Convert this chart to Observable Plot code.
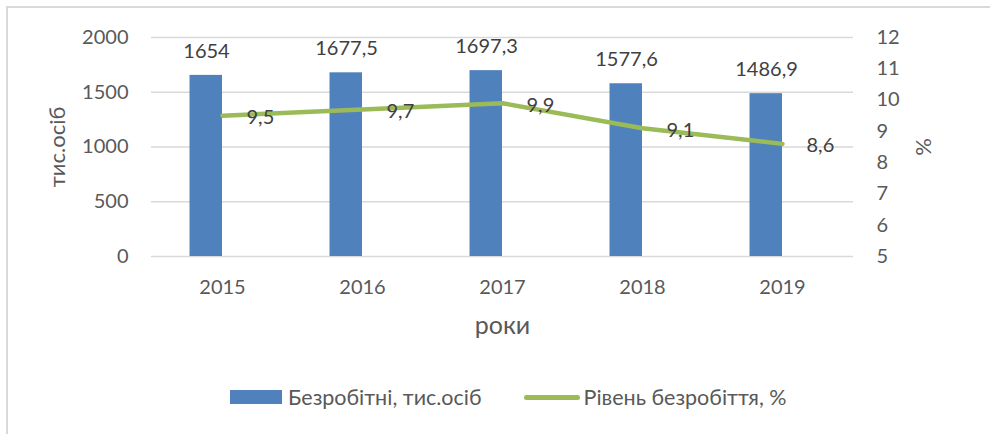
<!DOCTYPE html>
<html><head><meta charset="utf-8">
<script src="https://cdn.jsdelivr.net/npm/d3@7"></script>
<script src="https://cdn.jsdelivr.net/npm/@observablehq/plot@0.6"></script>
<style>
html,body{margin:0;padding:0;background:#fff;}
body{position:relative;width:990px;height:434px;overflow:hidden;font-family:Lato,sans-serif;}
#frame{position:absolute;left:6px;top:6px;width:1000px;height:440px;border-left:2px solid #d9d9d9;border-top:2px solid #d9d9d9;box-sizing:border-box}
#chart{position:absolute;left:0;top:0}
#legend{position:absolute;left:230px;top:384px;display:flex;align-items:center;font-size:21.5px;color:#595959;white-space:nowrap;line-height:26px}
#legend .sw-bar{display:inline-block;width:52px;height:14px;background:#4f81bd;margin-right:6px}
#legend .sw-line{display:inline-block;width:56px;height:5px;border-radius:3px;background:#9bbb59;margin-left:42px;margin-right:4px}
</style></head>
<body>
<div id="frame"></div>
<div id="chart"></div>
<div id="legend"><span class="sw-bar"></span><span>Безробітні, тис.осіб</span><span class="sw-line"></span><span>Рівень безробіття, %</span></div>
<script>
const years = ["2015", "2016", "2017", "2018", "2019"];
const unemployed = [1654, 1677.5, 1697.3, 1577.6, 1486.9];
const rate = [9.5, 9.7, 9.9, 9.1, 8.6];
const leftTicks = [0, 500, 1000, 1500, 2000];
const rightTicks = [5, 6, 7, 8, 9, 10, 11, 12];
const leftMax = 2000, rightMin = 5, rightMax = 12;

const toLeft = p => (p - rightMin) * leftMax / (rightMax - rightMin);
const fromLeft = v => Math.round(v * (rightMax - rightMin) / leftMax + rightMin);
const fmt = v => String(v).replace(".", ",");
const data = years.map((y, i) => ({year: y, value: unemployed[i], rate: rate[i], rateY: toLeft(rate[i])}));

const chart = Plot.plot({
  width: 990, height: 370,
  marginLeft: 151, marginRight: 137, marginTop: 37, marginBottom: 114,
  style: {fontFamily: "Lato, sans-serif", fontSize: "20px", color: "#595959", background: "transparent", overflow: "visible"},
  x: {domain: years, padding: 0, label: null},
  y: {domain: [0, leftMax], label: null},
  marks: [
    Plot.gridY(leftTicks, {stroke: "#d9d9d9", strokeOpacity: 1, strokeWidth: 1.6}),
    Plot.barY(data, {x: "year", y: "value", fill: "#4f81bd", insetLeft: 37.5, insetRight: 70}),
    Plot.lineY(data, {x: "year", y: "rateY", stroke: "#9bbb59", strokeWidth: 4.5, strokeLinecap: "round", strokeLinejoin: "round"}),
    Plot.text(data, {x: "year", y: "value", text: d => fmt(d.value), dx: -16, dy: -24, fill: "#404040"}),
    Plot.text(data, {x: "year", y: "rateY", text: d => fmt(d.rate), dx: 24, dy: 2, textAnchor: "start", fill: "#404040"}),
    Plot.axisY(leftTicks, {anchor: "left", tickSize: 0, tickPadding: 23, tickFormat: d => String(d), label: null}),
    Plot.axisY(rightTicks.map(toLeft), {anchor: "right", tickSize: 0, tickPadding: 23, tickFormat: fromLeft, textAnchor: "start", label: null}),
    Plot.axisX({tickSize: 0, tickPadding: 23, label: null}),
    Plot.axisX([], {label: "роки", labelAnchor: "center", labelOffset: 77, labelArrow: "none", fontSize: 25}),
    Plot.axisY([], {anchor: "left", label: "тис.осіб", labelAnchor: "center", labelOffset: 102, labelArrow: "none", fontSize: 22}),
    Plot.axisY([], {anchor: "right", label: "%", labelAnchor: "center", labelOffset: 77, labelArrow: "none", fontSize: 22})
  ]
});
document.getElementById("chart").appendChild(chart);
</script>
</body></html>
